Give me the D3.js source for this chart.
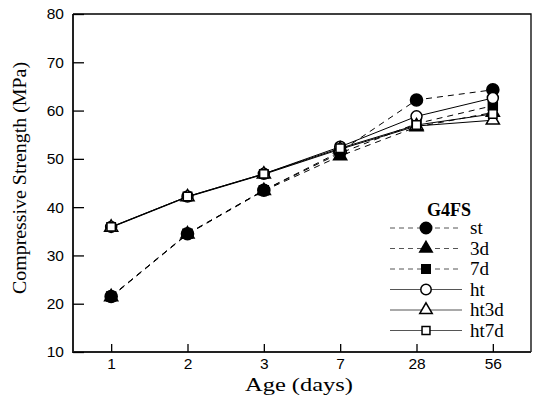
<!DOCTYPE html>
<html>
<head>
<meta charset="utf-8">
<script src="https://cdn.jsdelivr.net/npm/d3@7"></script>
<style>
  body { margin: 0; background: #fff; }
  svg { display: block; }
  .tick text { font-family: "Liberation Sans", Arial, sans-serif; font-size: 15.5px; fill: #000; }
  .serif { font-family: "Liberation Serif", "Times New Roman", Times, "DejaVu Serif", serif; }
</style>
</head>
<body>
<div id="chart"></div>
<script>
// chart data
var ages = ["1", "2", "3", "7", "28", "56"]
var yTicks = [10, 20, 30, 40, 50, 60, 70, 80]
var seriesNames = ["st", "3d", "7d", "ht", "ht3d", "ht7d"]
var st   = [21.5, 34.5, 43.5, 51.5, 62.2, 64.3]
var d3d  = [21.4, 34.4, 43.4, 50.6, 56.6, 59.6]
var d7d  = [21.5, 34.5, 43.5, 51.2, 57.3, 61.0]
var ht   = [35.9, 42.2, 46.9, 52.5, 58.8, 62.6]
var ht3d = [35.8, 42.1, 46.8, 52.0, 56.8, 58.0]
var ht7d = [35.9, 42.2, 46.9, 52.2, 57.0, 59.3]

var width = 536, height = 399
var margin = {top: 14, right: 5, bottom: 47, left: 73}

var svg = d3.select("#chart").append("svg")
            .attr("width", width)
            .attr("height", height)

var x = d3.scalePoint()
          .domain(ages)
          .range([margin.left, width - margin.right])
          .padding(0.5)
var y = d3.scaleLinear()
          .domain([10, 80])
          .range([height - margin.bottom, margin.top])

var series = [
  {name: "st",   vals: st,   dash: "6,5", shape: d3.symbolCircle,   fill: "#000", size: 115},
  {name: "3d",   vals: d3d,  dash: "6,5", shape: d3.symbolTriangle, fill: "#000", size: 75},
  {name: "7d",   vals: d7d,  dash: "6,5", shape: d3.symbolSquare,   fill: "#000", size: 80},
  {name: "ht",   vals: ht,   dash: null,  shape: d3.symbolCircle,   fill: "#fff", size: 95},
  {name: "ht3d", vals: ht3d, dash: null,  shape: d3.symbolTriangle, fill: "#fff", size: 75},
  {name: "ht7d", vals: ht7d, dash: null,  shape: d3.symbolSquare,   fill: "#fff", size: 70}
]

// frame
svg.append("path")
   .attr("d", "M" + margin.left + "," + margin.top + "H" + (width - margin.right) +
              "V" + (height - margin.bottom))
   .attr("fill", "none").attr("stroke", "#000").attr("stroke-width", 1.3)
svg.append("path")
   .attr("d", "M" + margin.left + "," + margin.top + "V" + (height - margin.bottom) +
              "H" + (width - margin.right))
   .attr("fill", "none").attr("stroke", "#222").attr("stroke-width", 2)

// axes, ticks inside
var xAxis = svg.append("g")
   .attr("transform", "translate(0," + (height - margin.bottom) + ")")
   .call(d3.axisBottom(x).tickSizeInner(-8).tickSizeOuter(0).tickPadding(6))
xAxis.select(".domain").remove()
xAxis.selectAll("line").attr("stroke-width", 1.3)

var yAxis = svg.append("g")
   .attr("transform", "translate(" + margin.left + ",0)")
   .call(d3.axisLeft(y).tickValues(yTicks).tickSizeInner(-11).tickSizeOuter(0).tickPadding(9))
yAxis.select(".domain").remove()
yAxis.selectAll("line").attr("stroke-width", 1.3)

// lines + markers
var line = d3.line()
             .x(function(d, i) { return x(ages[i]) })
             .y(function(d) { return y(d) })

series.forEach(function(s) {
  svg.append("path")
     .datum(s.vals)
     .attr("d", line)
     .attr("fill", "none")
     .attr("stroke", "#000")
     .attr("stroke-width", 1)
     .attr("stroke-dasharray", s.dash)
})
series.forEach(function(s) {
  svg.append("g").selectAll("path")
     .data(s.vals)
     .enter().append("path")
     .attr("transform", function(d, i) { return "translate(" + x(ages[i]) + "," + y(d) + ")" })
     .attr("d", d3.symbol().type(s.shape).size(s.size))
     .attr("fill", s.fill)
     .attr("stroke", "#000")
     .attr("stroke-width", 1.5)
})

// axis titles (the original fonts look stretched/squeezed)
svg.append("text")
   .attr("class", "serif")
   .attr("x", 299).attr("y", 391)
   .attr("text-anchor", "middle")
   .attr("textLength", 108)
   .attr("lengthAdjust", "spacingAndGlyphs")
   .style("font-size", "18px")
   .text("Age (days)")

svg.append("text")
   .attr("class", "serif")
   .attr("transform", "translate(26,178) rotate(-90)")
   .attr("text-anchor", "middle")
   .attr("textLength", 232)
   .attr("lengthAdjust", "spacingAndGlyphs")
   .style("font-size", "19px")
   .text("Compressive Strength (MPa)")

// legend
var legend = svg.append("g")
legend.append("text")
   .attr("class", "serif")
   .attr("x", 449).attr("y", 216)
   .attr("text-anchor", "middle")
   .style("font-size", "18px")
   .style("font-weight", "bold")
   .text("G4FS")

var rowY = d3.scalePoint().domain(seriesNames).range([228, 330.5])
var lg = legend.selectAll("g")
   .data(series)
   .enter().append("g")
   .attr("transform", function(d) { return "translate(0," + rowY(d.name) + ")" })
lg.append("line")
  .attr("x1", 390).attr("x2", 462)
  .attr("stroke", "#555").attr("stroke-width", 1)
  .attr("stroke-dasharray", function(d) { return d.dash ? "5,4" : null })
lg.append("path")
  .attr("transform", "translate(426,0)")
  .attr("d", function(d) { return d3.symbol().type(d.shape).size(d.size * 0.9)() })
  .attr("fill", function(d) { return d.fill })
  .attr("stroke", "#000").attr("stroke-width", 1.5)
lg.append("text")
  .attr("class", "serif")
  .attr("x", 470).attr("y", 6)
  .style("font-size", "19px")
  .text(function(d) { return d.name })
</script>
</body>
</html>
